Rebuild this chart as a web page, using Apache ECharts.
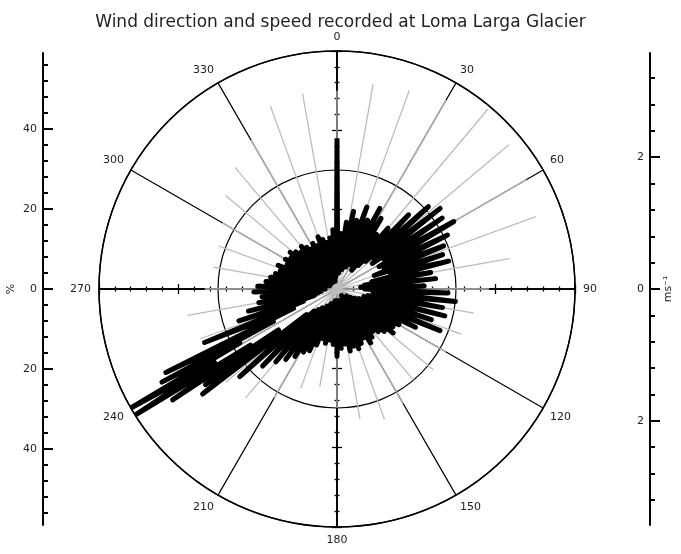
<!DOCTYPE html>
<html>
<head>
<meta charset="utf-8">
<script src="https://cdn.jsdelivr.net/npm/echarts@6/dist/echarts.min.js"></script>
<style>
  html, body { margin: 0; background: #fff; }
  #main { width: 681px; height: 554px; }
</style>
</head>
<body>
<div id="main"></div>
<script>
// wind direction frequency (%), black rose
var dirAngles = [0, 2, 4, 6, 8, 10, 12, 14, 16, 18, 20, 22, 24, 26, 28, 30, 32, 34, 36, 38,
  40, 42, 44, 46, 48, 50, 52, 54, 56, 58, 60, 62, 64, 66, 68, 70, 72, 74, 76, 78,
  80, 82, 84, 86, 88, 90, 92, 94, 96, 98, 100, 102, 104, 106, 108, 110, 112, 114, 116, 118,
  120, 122, 124, 126, 128, 130, 132, 134, 136, 138, 140, 142, 144, 146, 148, 150, 152, 154, 156, 158,
  160, 162, 164, 166, 168, 170, 172, 174, 176, 178, 180, 182, 184, 186, 188, 190, 192, 194, 196, 198,
  200, 202, 204, 206, 208, 210, 212, 214, 216, 218, 220, 222, 224, 226, 228, 230, 232, 233, 234, 235,
  236, 237, 238, 239, 240, 241, 242, 243, 244, 246, 248, 250, 252, 254, 256, 258, 260, 262, 264, 266,
  268, 270, 272, 274, 276, 278, 280, 282, 284, 286, 288, 290, 292, 294, 296, 298, 300, 302, 304, 306,
  308, 310, 312, 314, 316, 318, 320, 322, 324, 326, 328, 330, 332, 334, 336, 338, 340, 342, 344, 346,
  348, 350, 352, 354, 356, 358, 360];
var dirFreq = [38, 5, 14, 4, 17, 6, 20, 5, 18, 7, 22, 6, 19, 8, 23, 7, 21, 9, 17, 6,
  20, 8, 26, 10, 31, 12, 33, 11, 32, 14, 34, 12, 31, 13, 29, 10, 28, 14, 29, 9,
  24, 7, 25, 6, 22, 7, 28, 9, 30, 10, 27, 8, 28, 7, 25, 8, 28, 6, 22, 5,
  18, 4, 17, 3, 18, 4, 16, 3, 15, 4, 14, 3, 15, 2, 16, 4, 14, 3, 15, 4,
  16, 3, 15, 4, 16, 3, 14, 4, 15, 3, 17, 4, 14, 3, 13, 3, 14, 4, 13, 4,
  15, 4, 17, 5, 18, 5, 20, 6, 22, 6, 24, 7, 27, 8, 33, 10, 43, 20, 41, 18,
  50, 26, 60, 36, 60, 28, 50, 18, 48, 12, 36, 9, 26, 6, 23, 5, 20, 4, 19, 4,
  21, 3, 20, 4, 18, 3, 17, 4, 16, 3, 15, 3, 16, 2, 14, 3, 15, 2, 14, 3,
  15, 2, 14, 2, 13, 3, 14, 2, 13, 3, 12, 2, 13, 3, 12, 2, 14, 3, 13, 2,
  12, 3, 13, 3, 15, 4, 38];

// mean wind speed (m/s) per 10 deg sector, grey lines
var speedAngles = [0, 10, 20, 30, 40, 50, 60, 70, 80, 90, 100, 110, 120, 130, 140, 150, 160, 170,
  180, 190, 200, 210, 220, 230, 240, 250, 260, 270, 280, 290, 300, 310, 320, 330, 340, 350];
var speedVals = [3.0, 3.15, 3.2, 3.3, 3.55, 3.4, 3.3, 3.2, 2.65, 2.3, 2.1, 2.0, 1.9, 1.9, 1.8, 2.0, 2.1, 2.0,
  1.8, 1.5, 1.6, 1.9, 2.15, 2.2, 2.3, 2.2, 2.3, 2.0, 1.9, 1.9, 2.0, 2.2, 2.4, 2.6, 2.95, 3.0];

// side scales
var pctMajor = [-40, -20, 0, 20, 40];
var pctMinor = [-56, -52, -48, -44, -36, -32, -28, -24, -16, -12, -8, -4, 4, 8, 12, 16, 24, 28, 32, 36, 44, 48, 52, 56];
var msMajor = [-2, 0, 2];
var msMinor = [-3.2, -2.8, -2.4, -1.6, -1.2, -0.8, -0.4, 0.4, 0.8, 1.2, 1.6, 2.4, 2.8, 3.2];

var FONT = 'DejaVu Sans';
var CX = 337, CY = 289, R = 238;

var chart = echarts.init(document.getElementById('main'));

function crossAxis(pos) {
  return {
    type: 'value', gridIndex: 0, position: pos, min: -60, max: 60, interval: 20,
    axisLine: { onZero: true, lineStyle: { color: '#000', width: 1.5 } },
    axisTick: { length: 5, lineStyle: { color: '#000', width: 1.3 } },
    minorTick: { show: true, splitNumber: 5, length: 2.5, lineStyle: { color: '#000', width: 1.3 } },
    axisLabel: { show: false }, splitLine: { show: false }
  };
}
function hiddenX(g) {
  return { type: 'value', gridIndex: g, show: false, min: 0, max: 1 };
}
function sideAxis(g, lo, hi, ticks, len, labels, extra) {
  var ax = {
    type: 'value', gridIndex: g, position: 'left', min: lo, max: hi,
    axisLine: { show: true, lineStyle: { color: '#000', width: 2 } },
    axisTick: { show: true, inside: true, length: len, customValues: ticks, lineStyle: { color: '#000', width: 2 } },
    axisLabel: labels ? {
      show: true, customValues: labels, margin: 6, color: '#222', fontSize: 11, fontFamily: FONT,
      formatter: function (v) { return String(Math.abs(Math.round(v * 10) / 10)); }
    } : { show: false },
    splitLine: { show: false }
  };
  return Object.assign(ax, extra || {});
}

chart.setOption({
  backgroundColor: '#fff',
  animation: false,
  title: {
    text: 'Wind direction and speed recorded at Loma Larga Glacier',
    left: 'center', top: 9,
    textStyle: { fontSize: 17, fontWeight: 'normal', color: '#222', fontFamily: FONT }
  },
  polar: [
    { center: [CX, CY], radius: R },
    { center: [CX, CY], radius: R }
  ],
  angleAxis: [
    {
      polarIndex: 0, type: 'value', min: 0, max: 360, interval: 30, startAngle: 90, clockwise: true,
      axisLine: { lineStyle: { color: '#000', width: 1.5 } },
      axisTick: { show: false },
      axisLabel: {
        margin: 8, color: '#222', fontSize: 11, fontFamily: FONT,
        formatter: function (v) { return v === 360 ? '' : String(v); }
      },
      splitLine: { show: true, lineStyle: { color: '#000', width: 1.2 } }
    },
    { polarIndex: 1, type: 'value', min: 0, max: 360, startAngle: 90, clockwise: true, show: false }
  ],
  radiusAxis: [
    {
      polarIndex: 0, type: 'value', min: 0, max: 60, interval: 30,
      axisLine: { show: false }, axisTick: { show: false }, axisLabel: { show: false },
      splitLine: { show: true, lineStyle: { color: '#000', width: 1.2 } }
    },
    { polarIndex: 1, type: 'value', min: 0, max: 3.6, show: false }
  ],
  grid: [
    { left: CX - R, top: CY - R, width: 2 * R, height: 2 * R },
    { left: 43, top: 53, width: 1, height: 472 },
    { left: 43, top: 53, width: 1, height: 472 },
    { left: 650, top: 53, width: 1, height: 472 },
    { left: 650, top: 53, width: 1, height: 472 }
  ],
  xAxis: [crossAxis('bottom'), crossAxis('top'), hiddenX(1), hiddenX(2), hiddenX(3), hiddenX(4)],
  yAxis: [
    crossAxis('left'), crossAxis('right'),
    sideAxis(1, -59, 59, pctMinor, 5, pctMajor, {
      name: '%', nameLocation: 'middle', nameGap: 26, nameRotate: 90,
      nameTextStyle: { color: '#222', fontSize: 11, fontFamily: FONT }
    }),
    sideAxis(2, -59, 59, pctMajor, 10, null, { axisLine: { show: false } }),
    sideAxis(3, -3.58, 3.58, msMinor, 5, msMajor),
    sideAxis(4, -3.58, 3.58, msMajor, 10, null, {
      position: 'right', axisLine: { show: false },
      axisTick: { show: true, inside: false, length: 10, customValues: msMajor, lineStyle: { color: '#000', width: 2 } },
      name: 'ms\u207B\u00B9', nameLocation: 'middle', nameGap: 12, nameRotate: 90,
      nameTextStyle: { color: '#222', fontSize: 11, fontFamily: FONT }
    })
  ],
  series: [
    {
      type: 'custom', coordinateSystem: 'polar', polarIndex: 1, silent: true, z: 1,
      data: speedAngles.map(function (a, i) { return [speedVals[i], a]; }),
      renderItem: function (params, api) {
        var p0 = api.coord([0, api.value(1)]);
        var p1 = api.coord([api.value(0), api.value(1)]);
        return {
          type: 'line',
          shape: { x1: p0[0], y1: p0[1], x2: p1[0], y2: p1[1] },
          style: { stroke: '#bdbdbd', lineWidth: 1.3 }
        };
      }
    },
    {
      type: 'line', coordinateSystem: 'polar', polarIndex: 0, z: 3, silent: true,
      symbol: 'none',
      data: dirAngles.map(function (a, i) { return [dirFreq[i], a]; }),
      lineStyle: { color: '#000', width: 5, join: 'round' }
    }
  ]
});
</script>
</body>
</html>
